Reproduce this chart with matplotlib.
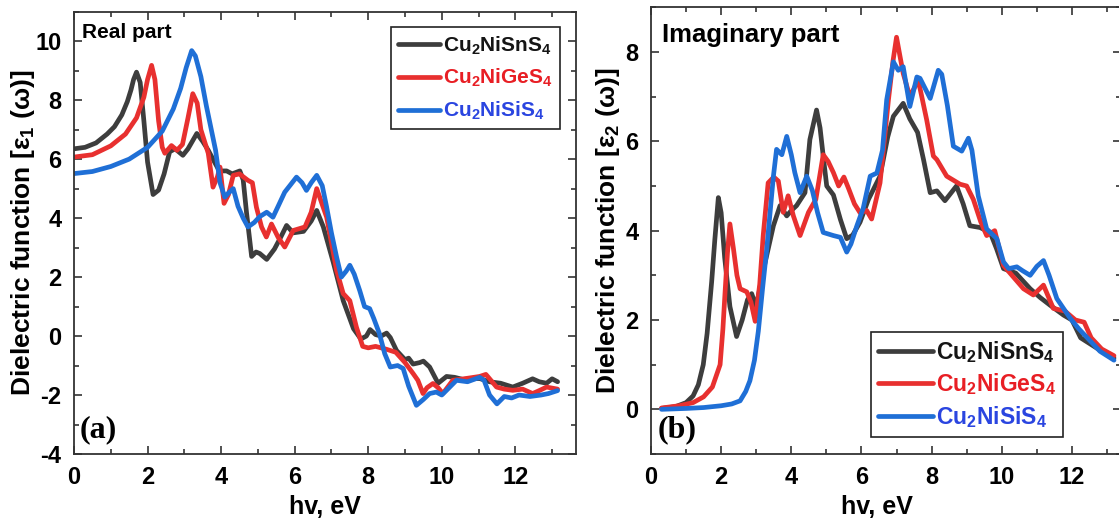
import matplotlib
matplotlib.use("Agg")
import matplotlib.pyplot as plt
from matplotlib.ticker import MultipleLocator

plt.rcParams['font.family'] = ['Liberation Sans', 'DejaVu Sans']
plt.rcParams['font.weight'] = 'bold'
plt.rcParams['mathtext.fontset'] = 'custom'
plt.rcParams['mathtext.rm'] = 'Liberation Sans:bold'
plt.rcParams['mathtext.bf'] = 'Liberation Sans:bold'
plt.rcParams['mathtext.it'] = 'Liberation Sans:bold'
plt.rcParams['mathtext.default'] = 'bf'
plt.rcParams['axes.unicode_minus'] = False

labels = [r'Cu$_2$NiSnS$_4$', r'Cu$_2$NiGeS$_4$', r'Cu$_2$NiSiS$_4$']
colors = ['#3d3d3d', '#e8302f', '#1f6fd6']
text_colors = ['#151515', '#e81e24', '#2a45e0']

# real part eps1
sn_x1 = [0, 0.3, 0.6, 0.9, 1.1, 1.3, 1.45, 1.55, 1.62, 1.7, 1.8, 1.9, 2.0, 2.15, 2.3, 2.45, 2.6, 2.75, 2.96, 3.1,
         3.34, 3.5, 3.65, 3.8, 3.95, 4.15, 4.3, 4.51, 4.6, 4.69, 4.83, 4.95, 5.05, 5.24, 5.45, 5.62, 5.78, 5.96,
         6.24, 6.45, 6.6, 6.78, 7.05, 7.32, 7.6, 7.8, 7.95, 8.05, 8.2, 8.35, 8.5, 8.6, 8.77, 9.0, 9.1, 9.22, 9.4,
         9.5, 9.67, 9.9, 10.13, 10.35, 10.57, 10.8, 11.03, 11.3, 11.6, 11.93, 12.2, 12.47, 12.65, 12.85, 13.0, 13.15]
sn_y1 = [6.35, 6.4, 6.55, 6.85, 7.1, 7.5, 7.95, 8.35, 8.7, 8.95, 8.6, 7.3, 5.9, 4.8, 4.95, 5.5, 6.25, 6.35, 6.13, 6.35,
         6.87, 6.6, 6.3, 5.95, 5.6, 5.6, 5.5, 5.6, 5.3, 4.2, 2.7, 2.85, 2.8, 2.6, 2.95, 3.35, 3.75, 3.5,
         3.55, 3.9, 4.26, 3.7, 2.5, 1.2, 0.25, -0.1, 0.0, 0.22, 0.05, 0.0, 0.1, -0.05, -0.49, -0.8, -0.75, -0.95, -0.9,
         -0.85, -1.05, -1.6, -1.37, -1.4, -1.47, -1.45, -1.44, -1.55, -1.6, -1.73, -1.6, -1.45, -1.55, -1.6, -1.45, -1.55]

ge_x1 = [0, 0.5, 1.0, 1.4, 1.7, 1.9, 2.0, 2.11, 2.2, 2.3, 2.4, 2.47, 2.65, 2.8, 2.95, 3.1, 3.23, 3.35, 3.45, 3.55,
         3.65, 3.78, 3.9, 3.97, 4.08, 4.2, 4.33, 4.5, 4.73, 4.85, 4.96, 5.1, 5.23, 5.37, 5.55, 5.73, 5.96, 6.28,
         6.45, 6.6, 6.87, 7.14, 7.32, 7.5, 7.68, 7.85, 8.0, 8.2, 8.5, 8.75, 9.0, 9.22, 9.35, 9.49, 9.6, 9.76, 9.9,
         10.03, 10.3, 10.6, 11.03, 11.2, 11.49, 11.7, 11.93, 12.2, 12.47, 12.65, 12.85, 13.15]
ge_y1 = [6.07, 6.15, 6.45, 6.85, 7.4, 8.1, 8.7, 9.18, 8.7, 7.3, 6.4, 6.2, 6.46, 6.3, 6.5, 7.4, 8.22, 7.9, 7.0, 6.6,
         6.2, 5.05, 5.4, 5.73, 4.5, 4.8, 5.45, 5.5, 5.28, 5.2, 4.37, 3.7, 3.36, 3.8, 3.35, 3.02, 3.58, 3.7,
         4.2, 5.0, 4.03, 2.23, 1.44, 1.2, 0.3, -0.35, -0.4, -0.35, -0.45, -0.55, -0.9, -1.27, -1.5, -1.95, -1.75, -1.61, -1.75,
         -1.95, -1.5, -1.45, -1.37, -1.3, -1.73, -1.8, -1.84, -1.8, -1.95, -1.85, -1.73, -1.8]

si_x1 = [0, 0.5, 1.0, 1.5, 2.0, 2.4, 2.7, 2.9, 3.05, 3.2, 3.3, 3.45, 3.6, 3.75, 3.85, 3.97, 4.1, 4.2, 4.33, 4.46,
         4.6, 4.73, 4.9, 5.05, 5.24, 5.41, 5.55, 5.73, 5.9, 6.05, 6.2, 6.32, 6.45, 6.6, 6.75, 6.87, 7.0, 7.14,
         7.27, 7.4, 7.5, 7.62, 7.77, 7.9, 8.04, 8.15, 8.3, 8.45, 8.6, 8.8, 8.95, 9.1, 9.31, 9.5, 9.67, 9.85, 10.0,
         10.13, 10.4, 10.7, 11.03, 11.15, 11.3, 11.5, 11.7, 11.9, 12.1, 12.4, 12.7, 12.9, 13.15]
si_y1 = [5.51, 5.58, 5.75, 6.0, 6.4, 6.95, 7.7, 8.4, 9.1, 9.68, 9.5, 8.8, 7.8, 6.9, 6.3, 5.2, 4.71, 4.85, 5.0, 4.4,
         4.0, 3.7, 3.85, 4.05, 4.2, 4.03, 4.4, 4.88, 5.15, 5.39, 5.2, 4.94, 5.2, 5.45, 5.1, 4.37, 3.5, 2.68,
         2.0, 2.2, 2.4, 2.1, 1.54, 1.0, 0.93, 0.6, 0.1, -0.6, -1.05, -1.0, -1.1, -1.7, -2.35, -2.15, -1.95, -1.9, -2.0,
         -1.84, -1.5, -1.55, -1.4, -1.5, -2.0, -2.3, -2.05, -2.1, -2.0, -2.05, -2.0, -1.95, -1.85]

# imaginary part eps2
sn_x2 = [0.3, 0.7, 1.0, 1.2, 1.35, 1.49, 1.6, 1.73, 1.82, 1.92, 2.0, 2.1, 2.25, 2.44, 2.6, 2.75, 2.87, 3.0, 3.2, 3.49,
         3.68, 3.87, 4.0, 4.15, 4.39, 4.53, 4.72, 4.82, 4.91, 5.01, 5.2, 5.4, 5.58, 5.75, 5.96, 6.2, 6.53, 6.75,
         6.91, 7.19, 7.38, 7.6, 7.77, 7.96, 8.15, 8.38, 8.71, 8.9, 9.09, 9.38, 9.67, 9.85, 10.05, 10.4, 10.81, 11.1,
         11.38, 11.76, 12.0, 12.25, 12.55, 12.85, 13.2]
sn_y2 = [0.02, 0.06, 0.15, 0.3, 0.55, 1.0, 1.7, 2.86, 3.8, 4.74, 4.4, 3.4, 2.3, 1.63, 2.0, 2.45, 2.59, 2.3, 3.1, 4.11,
         4.56, 4.33, 4.45, 4.56, 4.85, 6.04, 6.7, 6.3, 5.67, 5.0, 4.8, 4.25, 3.82, 3.9, 4.19, 4.7, 5.22, 6.1,
         6.56, 6.85, 6.5, 6.2, 5.59, 4.85, 4.89, 4.67, 5.0, 4.6, 4.11, 4.07, 3.96, 3.6, 3.15, 3.05, 2.7, 2.5,
         2.33, 2.11, 2.0, 1.6, 1.45, 1.3, 1.15]

ge_x2 = [0.3, 0.8, 1.2, 1.5, 1.75, 1.97, 2.05, 2.11, 2.18, 2.25, 2.35, 2.45, 2.54, 2.73, 2.85, 2.97, 3.1, 3.2, 3.34,
         3.5, 3.63, 3.77, 3.91, 4.06, 4.25, 4.49, 4.7, 4.91, 5.05, 5.2, 5.35, 5.5, 5.63, 5.8, 5.96, 6.15, 6.29,
         6.53, 6.77, 6.9, 7.0, 7.1, 7.19, 7.38, 7.62, 7.86, 8.05, 8.15, 8.43, 8.81, 9.0, 9.19, 9.4, 9.57, 9.8,
         10.05, 10.29, 10.62, 10.9, 11.19, 11.47, 11.8, 12.1, 12.35, 12.55, 12.85, 13.2]
ge_y2 = [0.03, 0.08, 0.15, 0.28, 0.5, 1.0, 1.8, 2.6, 3.5, 4.15, 3.6, 3.0, 2.7, 2.63, 2.4, 1.97, 2.8, 3.9, 5.07,
         5.2, 5.11, 4.41, 4.78, 4.33, 3.89, 4.41, 4.7, 5.7, 5.55, 5.3, 5.0, 5.2, 4.95, 4.6, 4.4, 4.45, 4.26,
         5.07, 6.93, 7.8, 8.33, 7.9, 7.52, 7.0, 7.37, 6.48, 5.67, 5.59, 5.22, 5.04, 5.0, 4.7, 4.2, 3.89, 4.0,
         3.22, 3.0, 2.7, 2.56, 2.78, 2.26, 2.2, 2.0, 1.95, 1.6, 1.35, 1.2]

si_x2 = [0.3, 1.0, 1.5, 2.0, 2.3, 2.54, 2.7, 2.82, 2.95, 3.06, 3.18, 3.3, 3.49, 3.58, 3.73, 3.87, 4.0, 4.1, 4.25,
         4.44, 4.6, 4.75, 4.91, 5.2, 5.4, 5.58, 5.7, 5.87, 6.05, 6.25, 6.44, 6.6, 6.72, 6.91, 7.05, 7.19, 7.38,
         7.58, 7.67, 7.96, 8.19, 8.29, 8.45, 8.62, 8.86, 9.05, 9.15, 9.33, 9.57, 9.86, 10.05, 10.2, 10.43, 10.6,
         10.81, 11.0, 11.19, 11.35, 11.57, 11.95, 12.2, 12.5, 12.8, 13.2]
si_y2 = [0.0, 0.02, 0.04, 0.08, 0.12, 0.19, 0.4, 0.64, 1.1, 1.75, 2.7, 3.59, 5.22, 5.82, 5.7, 6.11, 5.7, 5.3, 4.85,
         5.22, 4.9, 4.4, 3.96, 3.89, 3.85, 3.52, 3.7, 4.11, 4.5, 5.22, 5.29, 5.8, 6.93, 7.78, 7.59, 7.67, 6.78,
         7.44, 7.41, 6.96, 7.59, 7.5, 6.8, 5.89, 5.78, 6.07, 5.8, 4.78, 4.04, 3.82, 3.3, 3.15, 3.19, 3.1,
         3.0, 3.2, 3.33, 3.0, 2.48, 2.04, 1.8, 1.55, 1.3, 1.1]

W, H = 1119, 526
fig = plt.figure(figsize=(W / 100, H / 100), dpi=100)
ax1 = fig.add_axes([74 / W, (H - 454) / H, 502 / W, (454 - 11.7) / H])
ax2 = fig.add_axes([651 / W, (H - 454) / H, 470 / W, (454 - 7.3) / H])

for ax, xs, ys in [(ax1, [sn_x1, ge_x1, si_x1], [sn_y1, ge_y1, si_y1]),
                   (ax2, [sn_x2, ge_x2, si_x2], [sn_y2, ge_y2, si_y2])]:
    for i in range(3):
        ax.plot(xs[i], ys[i], color=colors[i], lw=3.4, label=labels[i],
                solid_joinstyle='round', solid_capstyle='round')
    ax.xaxis.set_major_locator(MultipleLocator(2))
    ax.xaxis.set_minor_locator(MultipleLocator(1))
    ax.yaxis.set_major_locator(MultipleLocator(2))
    ax.yaxis.set_minor_locator(MultipleLocator(1))
    ax.tick_params(which='both', direction='in', top=True, right=True, width=1.2, color='#333333')
    ax.tick_params(which='major', length=6, labelsize=17, pad=9)
    ax.tick_params(which='minor', length=3.5)
    for s in ax.spines.values():
        s.set_linewidth(1.3)
        s.set_color('#333333')
    ax.set_xlabel('hv, eV', fontsize=18, fontweight='bold')

ax1.set_xlim(0, 13.65)
ax1.set_ylim(-4, 11)
ax2.set_xlim(0, 13.4)
ax2.set_ylim(-1, 9)

ax1.set_ylabel(r'Dielectric function [ε$_1$ (ω)]', fontsize=19, fontweight='bold')
ax2.set_ylabel(r'Dielectric function [ε$_2$ (ω)]', fontsize=19, fontweight='bold')
ax1.yaxis.set_label_coords(-0.074, 0.5)
ax2.yaxis.set_label_coords(-0.062, 0.5)
ax1.xaxis.set_label_coords(0.5, -0.092)
ax2.xaxis.set_label_coords(0.48, -0.092)

ax1.text(0.016, 0.954, 'Real part', transform=ax1.transAxes, fontsize=15, fontweight='bold', va='center')
ax2.text(0.023, 0.938, 'Imaginary part', transform=ax2.transAxes, fontsize=18.5, fontweight='bold', va='center')
ax1.text(0.012, 0.054, '(a)', transform=ax1.transAxes, fontsize=23, fontweight='bold',
         family='Liberation Serif', va='center')
ax2.text(0.015, 0.054, '(b)', transform=ax2.transAxes, fontsize=23, fontweight='bold',
         family='Liberation Serif', va='center')

leg1 = ax1.legend(loc='upper right', bbox_to_anchor=(0.968, 0.965), fontsize=15, frameon=True,
                  fancybox=False, framealpha=1, edgecolor='#222222', borderaxespad=0,
                  handlelength=2.0, handletextpad=0.15, labelspacing=0.5, borderpad=0.35)
leg2 = ax2.legend(loc='lower right', bbox_to_anchor=(0.877, 0.038), fontsize=16.5, frameon=True,
                  fancybox=False, framealpha=1, edgecolor='#222222', borderaxespad=0,
                  handlelength=2.4, handletextpad=0.15, labelspacing=0.3, borderpad=0.3)
for leg in [leg1, leg2]:
    leg.get_frame().set_linewidth(1.2)
    for t, c in zip(leg.get_texts(), text_colors):
        t.set_color(c)

plt.savefig('out.png', dpi=100)
